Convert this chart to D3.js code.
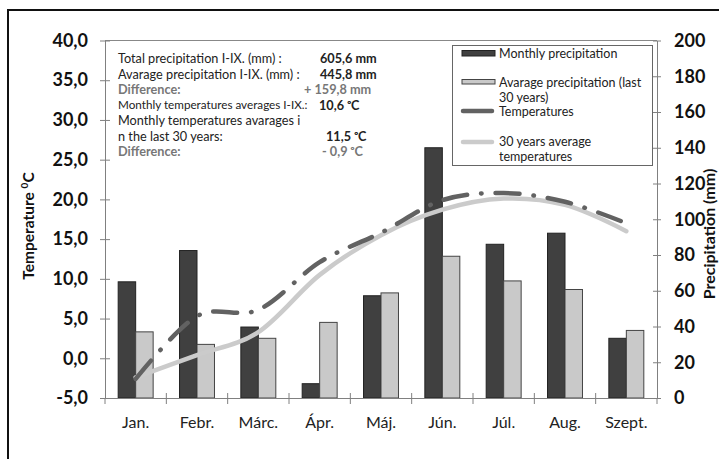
<!DOCTYPE html>
<html><head><meta charset="utf-8">
<script src="https://cdn.jsdelivr.net/npm/d3@7"></script>
<style>
html,body{margin:0;padding:0;background:#fff;}
svg{display:block;font-family:Lato,"Open Sans",sans-serif;}
</style></head>
<body>
<svg id="chart" width="719" height="459"></svg>
<script>
const months = ["Jan.","Febr.","Márc.","Ápr.","Máj.","Jún.","Júl.","Aug.","Szept."];
const precip = [65.0, 82.5, 39.7, 8.0, 57.2, 140.0, 86.0, 92.2, 33.4];
const precipAvg = [37.0, 30.0, 33.4, 42.3, 58.8, 79.3, 65.5, 60.7, 37.8];
const temp = [-2.6, 5.3, 6.1, 12.1, 15.8, 19.9, 20.8, 19.7, 17.0];
const tempAvg = [-2.4, 0.4, 3.3, 10.5, 15.5, 18.7, 20.1, 19.3, 16.0];
const tempTicks = [-5,0,5,10,15,20,25,30,35,40];
const precipTicks = [0,20,40,60,80,100,120,140,160,180,200];
const seriesNames = ["Monthly precipitation","Avarage precipitation (last|30 years)","Temperatures","30 years average|temperatures"];

const svg = d3.select("#chart");
const L = 105, R = 657, T = 40.5, B = 398;
const x = d3.scaleBand().domain(months).range([L, R]).padding(0);
const yT = d3.scaleLinear().domain([-5, 40]).range([B, T]);
const yP = d3.scaleLinear().domain([0, 200]).range([B, T]);
const fmt = v => d3.format(".1f")(v).replace(".", ",").replace("\u2212", "-");

// outer frame
svg.append("rect").attr("x", 8).attr("y", 10).attr("width", 740).attr("height", 480)
  .attr("fill", "none").attr("stroke", "#111").attr("stroke-width", 2);

// plot area top border
svg.append("line").attr("x1", L).attr("x2", R).attr("y1", T).attr("y2", T)
  .attr("stroke", "#888").attr("stroke-width", 1);

// bars
const bw = x.bandwidth() * 0.285;
const gBars = svg.append("g");
gBars.selectAll("rect.p").data(months).enter().append("rect")
  .attr("x", d => x(d) + x.bandwidth()/2 - bw)
  .attr("y", (d,i) => yP(precip[i]))
  .attr("width", bw).attr("height", (d,i) => yP(0) - yP(precip[i]))
  .attr("fill", "#404040").attr("stroke", "#222").attr("stroke-width", 1);
gBars.selectAll("rect.a").data(months).enter().append("rect")
  .attr("x", d => x(d) + x.bandwidth()/2)
  .attr("y", (d,i) => yP(precipAvg[i]))
  .attr("width", bw).attr("height", (d,i) => yP(0) - yP(precipAvg[i]))
  .attr("fill", "#c9c9c9").attr("stroke", "#444").attr("stroke-width", 1);

// lines
const line = arr => d3.line()
  .x((d,i) => x(months[i]) + x.bandwidth()/2)
  .y(d => yT(d))
  .curve(d3.curveCardinal.tension(0))(arr);
svg.append("path").attr("d", line(tempAvg)).attr("fill", "none")
  .attr("stroke", "#cbcbcb").attr("stroke-width", 4.5).attr("stroke-linecap", "round");
svg.append("path").attr("d", line(temp)).attr("fill", "none")
  .attr("stroke", "#626262").attr("stroke-width", 4.5).attr("stroke-linecap", "round")
  .attr("stroke-dasharray", "24,14,0.5,14");

// axes
const axisColor = "#808080";
const gL = svg.append("g").attr("transform", `translate(${L},0)`)
  .call(d3.axisLeft(yT).tickValues(tempTicks).tickSize(0).tickFormat(fmt));
gL.select(".domain").attr("stroke", axisColor);
gL.selectAll(".tick line").attr("x1", -5).attr("x2", 5).attr("stroke", axisColor);
gL.selectAll(".tick text").attr("x", -17).attr("font-size", 18).attr("font-weight", "bold")
  .attr("fill", "#111").attr("font-family", "Lato");

const gR = svg.append("g").attr("transform", `translate(${R},0)`)
  .call(d3.axisRight(yP).tickValues(precipTicks).tickSize(0).tickFormat(d3.format("d")));
gR.select(".domain").attr("stroke", axisColor);
gR.selectAll(".tick line").attr("x1", -4).attr("x2", 4).attr("stroke", axisColor);
gR.selectAll(".tick text").attr("x", 17).attr("font-size", 18).attr("font-weight", "bold")
  .attr("fill", "#111").attr("font-family", "Lato");

const gB = svg.append("g").attr("transform", `translate(0,${B})`)
  .call(d3.axisBottom(x).tickSize(0));
gB.select(".domain").attr("stroke", axisColor);
gB.selectAll(".tick line").remove();
gB.selectAll(".tick text").attr("y", 19).attr("font-size", 16).attr("fill", "#222")
  .attr("font-family", "Lato");
// category boundary ticks
gB.selectAll("line.bt").data(months.slice(1)).enter().append("line")
  .attr("x1", d => x(d)).attr("x2", d => x(d)).attr("y1", -5).attr("y2", 6)
  .attr("stroke", axisColor);
gB.append("line").attr("x1", L).attr("x2", L).attr("y1", 0).attr("y2", 6).attr("stroke", axisColor);
gB.append("line").attr("x1", R).attr("x2", R).attr("y1", 0).attr("y2", 6).attr("stroke", axisColor);

// axis titles
const tl = svg.append("text").attr("transform", "translate(34,226) rotate(-90)")
  .attr("text-anchor", "middle").attr("font-size", 15.5).attr("font-weight", "bold").attr("fill", "#111");
tl.append("tspan").text("Temperature ");
tl.append("tspan").text("0").attr("font-size", 10).attr("dy", -6);
tl.append("tspan").text("C").attr("dy", 6);
svg.append("text").attr("transform", "translate(715,234) rotate(-90)")
  .attr("text-anchor", "middle").attr("font-size", 16).attr("font-weight", "bold").attr("fill", "#111")
  .text("Precipitation (mm)");

// info text box
const info = [
  {t:"Total precipitation I-IX. (mm) :", v:"605,6 mm", vx:320, c:"#222", fs:12.7},
  {t:"Avarage precipitation  I-IX.  (mm) :", v:"445,8 mm", vx:320, c:"#222", fs:12.7},
  {t:"Difference:", v:"+ 159,8 mm", vx:304, c:"#777", fs:12.7},
  {t:"Monthly temperatures averages  I-IX.:", v:"10,6 \u1d52C", vx:319, c:"#222", fs:11.7},
  {t:"Monthly temperatures avarages i", v:"", vx:0, c:"#222", fs:12.7},
  {t:"n the last 30 years:", v:"11,5 \u1d52C", vx:326, c:"#222", fs:12.7},
  {t:"Difference:", v:"- 0,9 \u1d52C", vx:322, c:"#777", fs:12.7}
];
const gI = svg.append("g");
info.forEach((d,i) => {
  const yy = 59 + i*15.45;
  gI.append("text").attr("x", 118).attr("y", yy).attr("dy", "0.35em").attr("font-size", d.fs)
    .attr("fill", d.c).text(d.t).attr("font-weight", d.c === "#777" ? "bold" : "normal");
  if (d.v) gI.append("text").attr("x", d.vx).attr("y", yy).attr("dy", "0.35em").attr("font-size", 12.7)
    .attr("fill", d.c).attr("font-weight", "bold").text(d.v);
});

// legend
const lg = svg.append("g");
lg.append("rect").attr("x", 452.5).attr("y", 45.5).attr("width", 200).attr("height", 120)
  .attr("fill", "#fff").attr("stroke", "#666").attr("stroke-width", 1);
lg.append("rect").attr("x", 462).attr("y", 50.5).attr("width", 33).attr("height", 5.5)
  .attr("fill", "#404040").attr("stroke", "#222");
lg.append("rect").attr("x", 462).attr("y", 79.5).attr("width", 33).attr("height", 4.5)
  .attr("fill", "#c9c9c9").attr("stroke", "#444");
lg.append("line").attr("x1", 463).attr("x2", 492).attr("y1", 111).attr("y2", 111)
  .attr("stroke", "#626262").attr("stroke-width", 4.5).attr("stroke-linecap", "round");
lg.append("line").attr("x1", 463).attr("x2", 492).attr("y1", 142).attr("y2", 142)
  .attr("stroke", "#cbcbcb").attr("stroke-width", 4.5).attr("stroke-linecap", "round");
const legY = [[53.5], [83, 98], [111.5], [142, 156.5]];
seriesNames.forEach((n,i) => {
  n.split("|").forEach((part,j) => {
    lg.append("text").attr("x", 499).attr("y", legY[i][j]).attr("dy", "0.35em")
      .attr("font-size", 12.5).attr("fill", "#222").text(part);
  });
});
</script>
</body></html>
